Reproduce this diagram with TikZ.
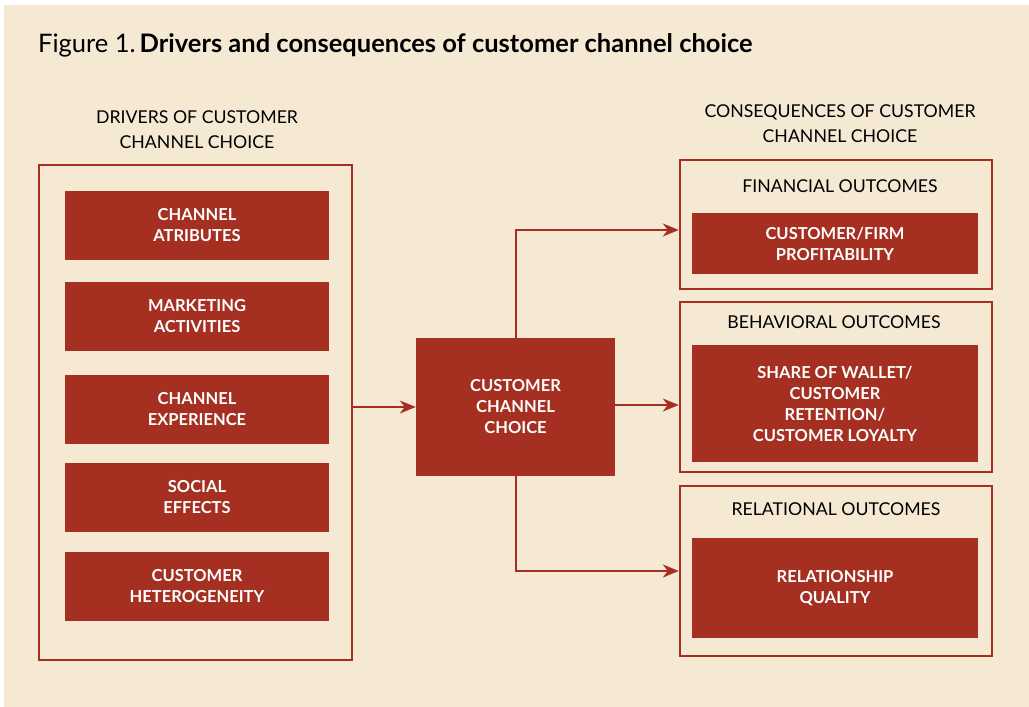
\documentclass[tikz,border=0pt]{standalone}
\usepackage{fontspec}
\setmainfont{Lato}
\usetikzlibrary{arrows.meta,positioning}
\definecolor{brick}{HTML}{A52F20}
\definecolor{paper}{HTML}{F5E9D4}
\tikzset{
  outerbox/.style={draw=brick,line width=2.4pt,minimum width=#1,inner sep=0pt},
  redbox/.style={fill=brick,text=white,font=\bfseries\fontsize{16.5}{21}\selectfont,
    align=center,inner sep=0pt},
  heading/.style={font=\fontsize{17.7}{25}\selectfont,align=center,text=black},
  link/.style={draw=brick,line width=2pt,-{Stealth[length=16pt,width=13pt,inset=5pt]}}
}
\begin{document}
\begin{tikzpicture}[x=1pt,y=-1pt]
  \useasboundingbox (0,0) rectangle (1029,707);
  \fill[white] (0,0) rectangle (1029,707);
  \fill[paper] (4,5) rectangle (1029,707);
  % title
  \node[anchor=base west,inner sep=0pt,font=\fontsize{25.5}{28}\selectfont] (title) at (38,52)
    {Figure 1.\kern4pt\textbf{Drivers and consequences of customer channel choice}};
  % drivers
  \node[heading] (lhead) at (197,130) {DRIVERS OF CUSTOMER\\CHANNEL CHOICE};
  \node[outerbox=313pt,minimum height=495pt] (lout) at (195.5,412.5) {};
  \node[redbox,minimum width=264pt,minimum height=69pt] (d1) at (197,225.5) {CHANNEL\\ATRIBUTES};
  \node[redbox,minimum width=264pt,minimum height=69pt] (d2) at (197,316.5) {MARKETING\\ACTIVITIES};
  \node[redbox,minimum width=264pt,minimum height=69pt] (d3) at (197,409.5) {CHANNEL\\EXPERIENCE};
  \node[redbox,minimum width=264pt,minimum height=69pt] (d4) at (197,497.5) {SOCIAL\\EFFECTS};
  \node[redbox,minimum width=264pt,minimum height=69pt] (d5) at (197,586.5) {CUSTOMER\\HETEROGENEITY};
  % choice
  \node[redbox,minimum width=199pt,minimum height=138pt] (cc) at (515.5,407) {CUSTOMER\\CHANNEL\\CHOICE};
  % consequences
  \node[heading] (rhead) at (840,124) {CONSEQUENCES OF CUSTOMER\\CHANNEL CHOICE};
  \node[outerbox=312pt,minimum height=129pt] (rout1) at (836,224.5) {};
  \node[outerbox=312pt,minimum height=170pt] (rout2) at (836,387) {};
  \node[outerbox=312pt,minimum height=170pt] (rout3) at (836,571) {};
  \node[heading] (fin) at (840,186) {FINANCIAL OUTCOMES};
  \node[heading] (beh) at (834,322) {BEHAVIORAL OUTCOMES};
  \node[heading] (rel) at (836,509) {RELATIONAL OUTCOMES};
  \node[redbox,minimum width=286pt,minimum height=61pt] (c1) at (835,243.5) {CUSTOMER/FIRM\\PROFITABILITY};
  \node[redbox,minimum width=286pt,minimum height=117pt] (c2) at (835,403.5)
    {SHARE OF WALLET/\\CUSTOMER\\RETENTION/\\CUSTOMER LOYALTY};
  \node[redbox,minimum width=286pt,minimum height=100pt] (c3) at (835,588) {RELATIONSHIP\\QUALITY};
  % links
  \draw[link] (lout.east |- cc) -- (cc.west);
  \draw[link] (cc.north) |- ([yshift=-5.5pt]rout1.west);
  \draw[link] ([yshift=2pt]cc.east) -- ([yshift=2pt]cc.east -| rout2.west);
  \draw[link] (cc.south) |- (rout3.west);
\end{tikzpicture}
\end{document}
